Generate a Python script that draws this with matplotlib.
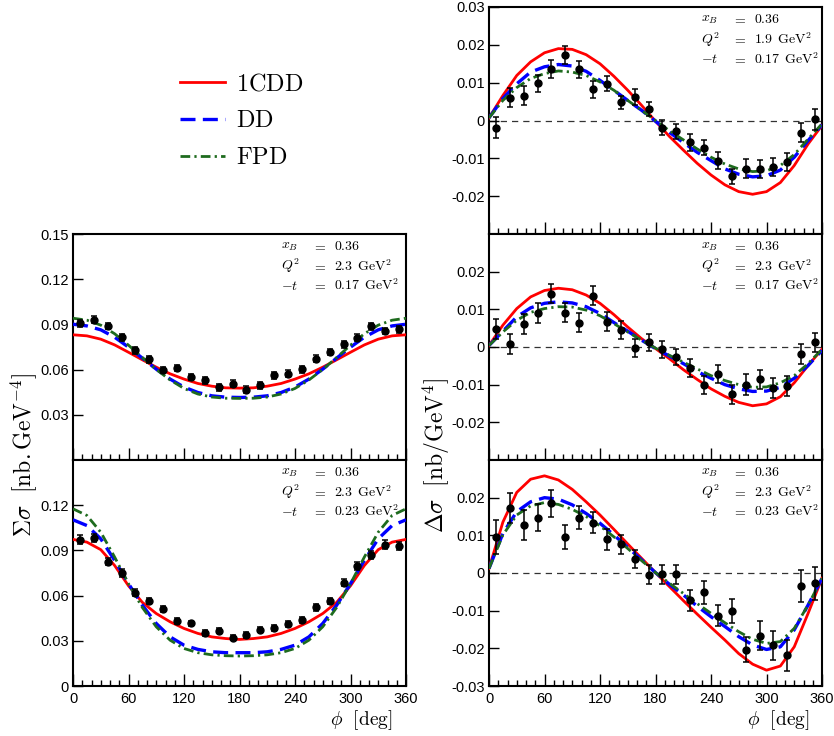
import numpy as np
import matplotlib
matplotlib.use("Agg")
import matplotlib.pyplot as plt
from matplotlib.ticker import MultipleLocator, FixedLocator, FuncFormatter

plt.rcParams["font.family"] = "Liberation Sans"
plt.rcParams["mathtext.fontset"] = "cm"
plt.rcParams["axes.unicode_minus"] = False

# bin centres of the measured points and the grid of the model curves
phi_bins = [7.5, 22.5, 37.5, 52.5, 67.5, 82.5, 97.5, 112.5, 127.5, 142.5, 157.5, 172.5,
            187.5, 202.5, 217.5, 232.5, 247.5, 262.5, 277.5, 292.5, 307.5, 322.5, 337.5, 352.5]
phi_grid = [0, 15, 30, 45, 60, 75, 90, 105, 120, 135, 150, 165, 180,
            195, 210, 225, 240, 255, 270, 285, 300, 315, 330, 345, 360]

# unpolarised cross section, -t = 0.17
sum17_y = [0.0908, 0.0932, 0.0890, 0.0815, 0.0727, 0.0669, 0.0597, 0.0610, 0.0550, 0.0528, 0.0482, 0.0506,
           0.0466, 0.0495, 0.0561, 0.0574, 0.0601, 0.0672, 0.0716, 0.0767, 0.0813, 0.0888, 0.0857, 0.0868]
sum17_err = [0.0022] * 24
sum17_1cdd = [0.0831, 0.0824, 0.0802, 0.0764, 0.0715, 0.0665, 0.0616, 0.0572, 0.0537, 0.0508, 0.0490, 0.0479, 0.0477,
              0.0479, 0.0490, 0.0508, 0.0537, 0.0572, 0.0616, 0.0665, 0.0715, 0.0764, 0.0802, 0.0824, 0.0831]
sum17_dd = [0.0901, 0.0890, 0.0864, 0.0815, 0.0749, 0.0676, 0.0603, 0.0537, 0.0484, 0.0448, 0.0426, 0.0417, 0.0415,
            0.0417, 0.0426, 0.0448, 0.0484, 0.0537, 0.0603, 0.0676, 0.0749, 0.0815, 0.0864, 0.0890, 0.0901]
sum17_fpd = [0.0941, 0.0928, 0.0895, 0.0838, 0.0762, 0.0680, 0.0601, 0.0531, 0.0475, 0.0438, 0.0418, 0.0410, 0.0409,
             0.0410, 0.0418, 0.0438, 0.0475, 0.0531, 0.0601, 0.0680, 0.0762, 0.0838, 0.0895, 0.0928, 0.0941]

# unpolarised cross section, -t = 0.23
sum23_y = [0.0971, 0.0982, 0.0825, 0.0750, 0.0620, 0.0563, 0.0512, 0.0432, 0.0415, 0.0351, 0.0368, 0.0320,
           0.0338, 0.0375, 0.0384, 0.0413, 0.0437, 0.0523, 0.0563, 0.0686, 0.0796, 0.0871, 0.0938, 0.0931]
sum23_err = [0.0028, 0.0028, 0.0024, 0.0024, 0.0022, 0.0022, 0.0020, 0.0020, 0.0018, 0.0018, 0.0018, 0.0018,
             0.0018, 0.0018, 0.0018, 0.0020, 0.0020, 0.0022, 0.0022, 0.0024, 0.0024, 0.0026, 0.0028, 0.0028]
sum23_1cdd = [0.0973, 0.0955, 0.0905, 0.0800, 0.0665, 0.0555, 0.0481, 0.0426, 0.0382, 0.0349, 0.0326, 0.0315, 0.0309,
              0.0315, 0.0326, 0.0349, 0.0382, 0.0426, 0.0481, 0.0555, 0.0665, 0.0800, 0.0905, 0.0955, 0.0973]
sum23_dd = [0.1103, 0.1065, 0.0977, 0.0834, 0.0679, 0.0536, 0.0415, 0.0326, 0.0271, 0.0243, 0.0227, 0.0221, 0.0221,
            0.0221, 0.0227, 0.0243, 0.0271, 0.0326, 0.0415, 0.0536, 0.0679, 0.0834, 0.0977, 0.1065, 0.1103]
sum23_fpd = [0.1176, 0.1132, 0.1021, 0.0856, 0.0679, 0.0521, 0.0393, 0.0304, 0.0249, 0.0221, 0.0207, 0.0201, 0.0199,
             0.0201, 0.0207, 0.0221, 0.0249, 0.0304, 0.0393, 0.0521, 0.0679, 0.0856, 0.1021, 0.1132, 0.1176]

# beam-helicity difference, Q2 = 1.9, -t = 0.17
d19_y = [-0.0019, 0.0060, 0.0065, 0.0098, 0.0137, 0.0173, 0.0135, 0.0082, 0.0097, 0.0048, 0.0062, 0.0031,
         -0.0019, -0.0029, -0.0058, -0.0072, -0.0106, -0.0148, -0.0128, -0.0129, -0.0122, -0.0109, -0.0032, 0.0003]
d19_err = [0.0027, 0.0025, 0.0025, 0.0022, 0.0024, 0.0023, 0.0022, 0.0022, 0.0020, 0.0018, 0.0020, 0.0019,
           0.0020, 0.0020, 0.0022, 0.0020, 0.0022, 0.0020, 0.0025, 0.0024, 0.0024, 0.0024, 0.0025, 0.0028]
d19_1cdd = [0.0007, 0.0066, 0.0119, 0.0155, 0.0179, 0.0190, 0.0188, 0.0174, 0.0150, 0.0117, 0.0080, 0.0040, -0.0002,
            -0.0042, -0.0078, -0.0113, -0.0144, -0.0170, -0.0188, -0.0195, -0.0188, -0.0164, -0.0119, -0.0062, -0.0013]
d19_dd = [0.0007, 0.0058, 0.0097, 0.0128, 0.0142, 0.0148, 0.0144, 0.0130, 0.0106, 0.0080, 0.0053, 0.0027, -0.0002,
          -0.0031, -0.0058, -0.0084, -0.0106, -0.0128, -0.0142, -0.0149, -0.0146, -0.0131, -0.0097, -0.0053, -0.0011]
d19_fpd = [0.0007, 0.0053, 0.0087, 0.0111, 0.0124, 0.0131, 0.0128, 0.0119, 0.0102, 0.0080, 0.0053, 0.0027, 0.0000,
           -0.0027, -0.0051, -0.0075, -0.0097, -0.0115, -0.0128, -0.0135, -0.0133, -0.0119, -0.0090, -0.0049, -0.0009]

# beam-helicity difference, Q2 = 2.3, -t = 0.17
d17_y = [0.0047, 0.0008, 0.0061, 0.0091, 0.0141, 0.0091, 0.0064, 0.0136, 0.0067, 0.0044, -0.0002, 0.0012,
         -0.0006, -0.0027, -0.0056, -0.0100, -0.0071, -0.0126, -0.0100, -0.0086, -0.0108, -0.0104, -0.0018, 0.0012]
d17_err = [0.0027, 0.0027, 0.0026, 0.0027, 0.0025, 0.0025, 0.0025, 0.0025, 0.0025, 0.0024, 0.0024, 0.0022,
           0.0022, 0.0022, 0.0024, 0.0024, 0.0024, 0.0024, 0.0027, 0.0026, 0.0027, 0.0026, 0.0027, 0.0026]
d17_1cdd = [0.0004, 0.0058, 0.0102, 0.0133, 0.0150, 0.0156, 0.0152, 0.0138, 0.0116, 0.0086, 0.0053, 0.0022, -0.0004,
            -0.0031, -0.0060, -0.0086, -0.0111, -0.0131, -0.0147, -0.0156, -0.0151, -0.0132, -0.0095, -0.0049, -0.0006]
d17_dd = [0.0004, 0.0042, 0.0080, 0.0104, 0.0116, 0.0120, 0.0117, 0.0107, 0.0089, 0.0065, 0.0042, 0.0018, -0.0004,
          -0.0024, -0.0044, -0.0065, -0.0083, -0.0100, -0.0111, -0.0118, -0.0117, -0.0107, -0.0083, -0.0049, -0.0009]
d17_fpd = [0.0004, 0.0040, 0.0071, 0.0092, 0.0102, 0.0107, 0.0106, 0.0098, 0.0083, 0.0062, 0.0040, 0.0018, -0.0003,
           -0.0022, -0.0040, -0.0058, -0.0076, -0.0089, -0.0100, -0.0107, -0.0106, -0.0095, -0.0076, -0.0044, -0.0006]

# beam-helicity difference, Q2 = 2.3, -t = 0.23
d23_y = [0.0095, 0.0173, 0.0127, 0.0147, 0.0185, 0.0095, 0.0147, 0.0134, 0.0089, 0.0076, 0.0036, -0.0004,
         -0.0003, -0.0003, -0.0072, -0.0051, -0.0113, -0.0101, -0.0204, -0.0166, -0.0192, -0.0219, -0.0035, -0.0027]
d23_err = [0.0045, 0.0040, 0.0040, 0.0036, 0.0035, 0.0032, 0.0031, 0.0029, 0.0027, 0.0026, 0.0024, 0.0025,
           0.0025, 0.0025, 0.0028, 0.0030, 0.0029, 0.0032, 0.0033, 0.0038, 0.0038, 0.0042, 0.0043, 0.0044]
d23_1cdd = [0.0012, 0.0135, 0.0214, 0.0249, 0.0258, 0.0247, 0.0222, 0.0189, 0.0154, 0.0116, 0.0077, 0.0039, 0.0001,
            -0.0036, -0.0073, -0.0109, -0.0144, -0.0178, -0.0214, -0.0242, -0.0258, -0.0247, -0.0196, -0.0107, -0.0014]
d23_dd = [0.0012, 0.0105, 0.0163, 0.0189, 0.0200, 0.0196, 0.0181, 0.0158, 0.0132, 0.0101, 0.0068, 0.0035, 0.0001,
          -0.0030, -0.0058, -0.0088, -0.0116, -0.0142, -0.0169, -0.0191, -0.0203, -0.0196, -0.0151, -0.0085, -0.0014]
d23_fpd = [0.0012, 0.0101, 0.0154, 0.0178, 0.0187, 0.0182, 0.0169, 0.0150, 0.0125, 0.0096, 0.0065, 0.0033, 0.0001,
           -0.0027, -0.0054, -0.0081, -0.0107, -0.0132, -0.0156, -0.0176, -0.0187, -0.0182, -0.0147, -0.0085, -0.0014]

kin_17 = ["0.36", "2.3", "0.17"]
kin_19 = ["0.36", "1.9", "0.17"]
kin_23 = ["0.36", "2.3", "0.23"]

RED = "#ff0000"
BLUE = "#0000ff"
GREEN = "#1e6b1e"

W, H = 834, 736
fig = plt.figure(figsize=(W / 100, H / 100), dpi=100)


def px_axes(x0, y0, x1, y1):
    return fig.add_axes([x0 / W, 1 - y1 / H, (x1 - x0) / W, (y1 - y0) / H])


def fmt(v, pos):
    if abs(v) < 1e-9:
        return "0"
    return "%.2f" % v


def panel(ax, y, err, c1, c2, c3, kin, ylim, yticks, xlabels, zero_line, text_x):
    ax.set_xlim(0, 360)
    ax.set_ylim(*ylim)
    if zero_line:
        ax.axhline(0, color="#333333", lw=0.9, ls=(0, (5, 4)), zorder=1)
    ax.plot(phi_grid, c1, color=RED, lw=2.0, zorder=3, label=r"$\mathrm{1CDD}$")
    ax.plot(phi_grid, c2, color=BLUE, lw=2.4, ls=(0, (4.5, 2.2)), zorder=4, label=r"$\mathrm{DD}$")
    ax.plot(phi_grid, c3, color=GREEN, lw=2.0, ls=(0, (3.5, 1.5, 0.8, 1.5)), zorder=4, label=r"$\mathrm{FPD}$")
    ax.errorbar(phi_bins, y, yerr=err, fmt="o", color="black", ms=5, elinewidth=1.1,
                capsize=2.2, capthick=1.1, zorder=5)
    ax.xaxis.set_major_locator(MultipleLocator(60))
    ax.xaxis.set_minor_locator(MultipleLocator(10))
    ax.yaxis.set_major_locator(FixedLocator(yticks))
    ax.yaxis.set_major_formatter(FuncFormatter(fmt))
    ax.tick_params(axis="both", which="both", direction="in", top=False, right=False,
                   labelsize=10.5, width=1.0)
    ax.tick_params(axis="x", which="major", length=9, pad=4)
    ax.tick_params(axis="x", which="minor", length=4.5)
    ax.tick_params(axis="y", which="major", length=7, pad=3)
    if not xlabels:
        ax.tick_params(axis="x", which="both", labelbottom=False)
    for s in ax.spines.values():
        s.set_linewidth(1.5)
    names = [r"$x_B$", r"$Q^2$", r"$-t$"]
    vals = [r"$%s$" % kin[0], r"$%s\ \,\mathrm{GeV}^2$" % kin[1], r"$%s\ \,\mathrm{GeV}^2$" % kin[2]]
    for i, yy in enumerate([0.945, 0.858, 0.772]):
        ax.text(text_x[0], yy, names[i], transform=ax.transAxes, fontsize=10, va="center")
        ax.text(text_x[1], yy, r"$=$", transform=ax.transAxes, fontsize=10, va="center")
        ax.text(text_x[2], yy, vals[i], transform=ax.transAxes, fontsize=10, va="center")


left_text = (0.625, 0.718, 0.784)
right_text = (0.637, 0.730, 0.796)

ax1 = px_axes(73, 234, 406, 460)
panel(ax1, sum17_y, sum17_err, sum17_1cdd, sum17_dd, sum17_fpd, kin_17,
      (0, 0.15), [0.03, 0.06, 0.09, 0.12, 0.15], False, False, left_text)
ax2 = px_axes(73, 460, 406, 686)
panel(ax2, sum23_y, sum23_err, sum23_1cdd, sum23_dd, sum23_fpd, kin_23,
      (0, 0.15), [0, 0.03, 0.06, 0.09, 0.12], True, False, left_text)

ax3 = px_axes(489, 7, 822, 234)
panel(ax3, d19_y, d19_err, d19_1cdd, d19_dd, d19_fpd, kin_19,
      (-0.03, 0.03), [-0.02, -0.01, 0, 0.01, 0.02, 0.03], False, True, right_text)
ax4 = px_axes(489, 234, 822, 460)
panel(ax4, d17_y, d17_err, d17_1cdd, d17_dd, d17_fpd, kin_17,
      (-0.03, 0.03), [-0.02, -0.01, 0, 0.01, 0.02], False, True, right_text)
ax5 = px_axes(489, 460, 822, 686)
panel(ax5, d23_y, d23_err, d23_1cdd, d23_dd, d23_fpd, kin_23,
      (-0.03, 0.03), [-0.03, -0.02, -0.01, 0, 0.01, 0.02], True, True, right_text)

# axis titles shared by the stacked panels
fig.text(24 / W, 1 - 455 / H, r"$\Sigma\sigma\ \ [\mathrm{nb.GeV}^{-4}]$", rotation=90,
         ha="center", va="center", fontsize=17)
fig.text(436 / W, 1 - 456 / H, r"$\Delta\sigma\ \ [\mathrm{nb/GeV}^{4}]$", rotation=90,
         ha="center", va="center", fontsize=17)
fig.text(361 / W, 1 - 720 / H, r"$\phi\ \ [\mathrm{deg}]$", ha="center", va="center", fontsize=14)
fig.text(778 / W, 1 - 720 / H, r"$\phi\ \ [\mathrm{deg}]$", ha="center", va="center", fontsize=14)

handles, labels = ax1.get_legend_handles_labels()
fig.legend(handles, labels, loc="upper left", bbox_to_anchor=(180 / W, 1 - 73 / H),
           frameon=False, fontsize=17.5, handlelength=1.85, handletextpad=0.45,
           labelspacing=0.62, borderpad=0, borderaxespad=0)

fig.savefig("out.png", dpi=100)
